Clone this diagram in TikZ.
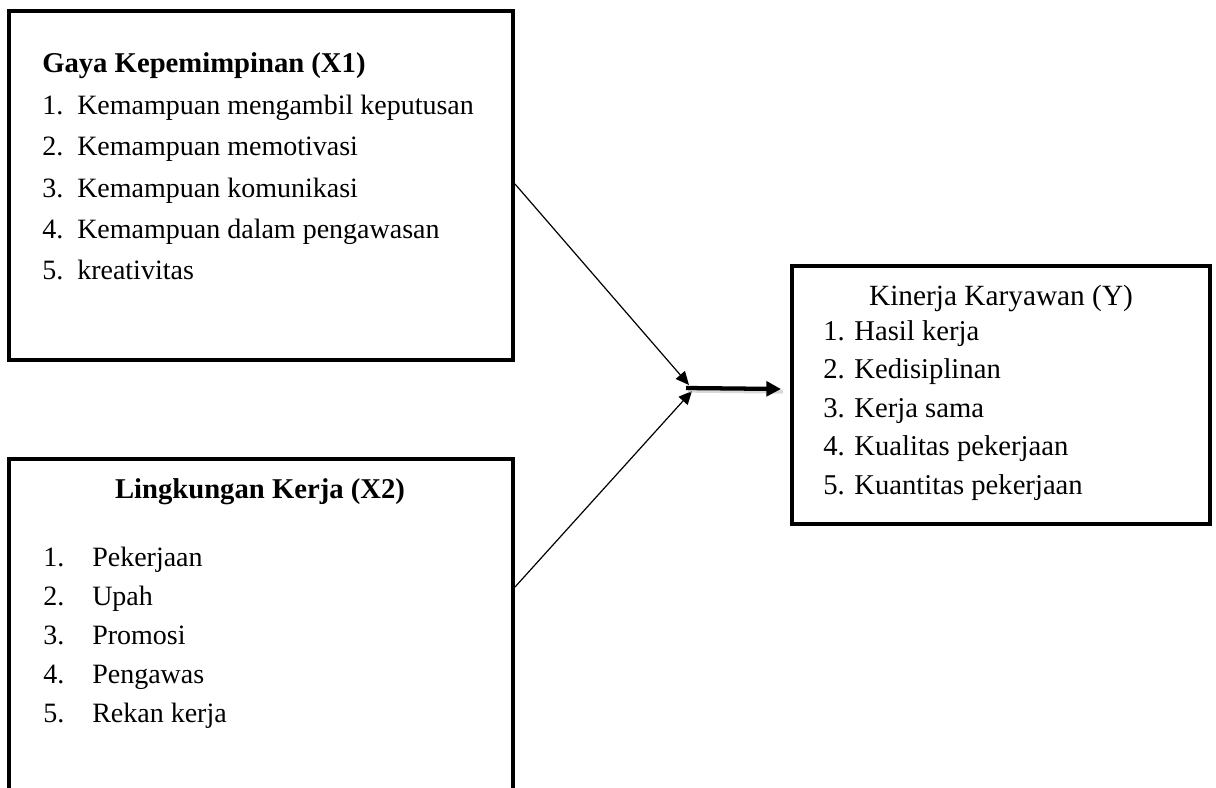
\documentclass[tikz,border=0pt]{standalone}
\usepackage{fontspec}
\setmainfont{Liberation Serif}
\usetikzlibrary{arrows.meta}
\begin{document}
\begin{tikzpicture}[x=0.75pt,y=-0.75pt,
  boxstyle/.style={draw=black,line width=3pt},
  txt/.style={anchor=base west,inner sep=0pt,font=\fontsize{21}{24}\selectfont},
  txtc/.style={anchor=base west,inner sep=0pt,font=\fontsize{21.5}{24}\selectfont},
  ttl/.style={anchor=base west,inner sep=0pt,font=\fontsize{21.5}{24}\selectfont\bfseries},
  thin/.style={line width=0.9pt,-{Triangle[length=10pt,width=9pt]}},
  thick/.style={line width=3.2pt,-{Triangle[length=11pt,width=11pt]}}]
\useasboundingbox (0,0) rectangle (1216,788);
\clip (0,0) rectangle (1216,788);
% boxes
\draw[boxstyle] (9,11) rectangle (513,360);
\draw[boxstyle] (9,459) rectangle (513,820);
\draw[boxstyle] (792,266) rectangle (1210,524);
\coordinate (a1) at (515,184);
\coordinate (a2) at (515,587);
\coordinate (m) at (686,388);
\coordinate (mt) at (689,385);
\coordinate (mb) at (692,391);
\coordinate (yl) at (781,389);
% box 1
\node[ttl] (t1) at (42,73) {Gaya Kepemimpinan (X1)};
\node[txt] (g1) at (42,115) {1.};
\node[txt] (g1t) at (77,115) {Kemampuan mengambil keputusan};
\node[txt] (g2) at (42,156) {2.};
\node[txt] (g2t) at (77,156) {Kemampuan memotivasi};
\node[txt] (g3) at (42,197) {3.};
\node[txt] (g3t) at (77,197) {Kemampuan komunikasi};
\node[txt] (g4) at (42,238) {4.};
\node[txt] (g4t) at (77,238) {Kemampuan dalam pengawasan};
\node[txt] (g5) at (42,279) {5.};
\node[txt] (g5t) at (77,279) {kreativitas};
% box 2
\node[ttl,anchor=base] (t2) at (260,498) {Lingkungan Kerja (X2)};
\node[txt] (l1) at (43,566) {1.};
\node[txt] (l1t) at (92,566) {Pekerjaan};
\node[txt] (l2) at (43,605) {2.};
\node[txt] (l2t) at (92,605) {Upah};
\node[txt] (l3) at (43,644) {3.};
\node[txt] (l3t) at (92,644) {Promosi};
\node[txt] (l4) at (43,683) {4.};
\node[txt] (l4t) at (92,683) {Pengawas};
\node[txt] (l5) at (43,722) {5.};
\node[txt] (l5t) at (92,722) {Rekan kerja};
% box 3
\node[txtc,anchor=base,font=\fontsize{22}{24}\selectfont] (t3) at (1001,305) {Kinerja Karyawan (Y)};
\node[txtc] (k1) at (823,340) {1. Hasil kerja};
\node[txtc] (k2) at (823,378) {2. Kedisiplinan};
\node[txtc] (k3) at (823,417) {3. Kerja sama};
\node[txtc] (k4) at (823,455) {4. Kualitas pekerjaan};
\node[txtc] (k5) at (823,494) {5. Kuantitas pekerjaan};
% arrows
\draw[thin] (a1) -- (mt);
\draw[thin] (a2) -- (mb);
\draw[line width=3pt,black!25,opacity=0.6] ([xshift=1.5pt,yshift=-2pt]m) -- ([xshift=1.5pt,yshift=-2pt]yl);
\draw[thick] (m) -- (yl);
\end{tikzpicture}
\end{document}
